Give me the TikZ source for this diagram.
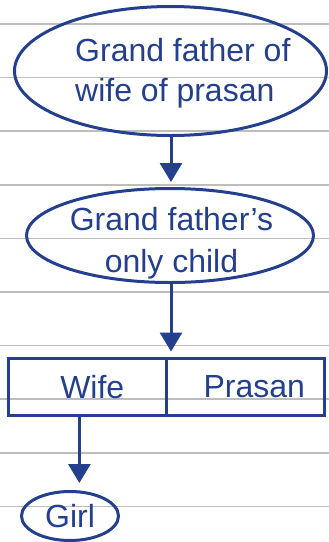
\documentclass[tikz,border=0pt]{standalone}
\usepackage{fontspec}
\setmainfont{Liberation Sans}
\usepackage{tikz}
\usetikzlibrary{shapes.geometric, arrows.meta, positioning, calc}
\definecolor{inkblue}{HTML}{233F8E}
\definecolor{rulegray}{HTML}{BDBDBD}

\begin{document}
\begin{tikzpicture}[
  x=1pt, y=-1pt,
  bubble/.style={draw=inkblue, ellipse, line width=3pt, inner sep=0pt},
  cell/.style={draw=inkblue, rectangle, line width=3pt, inner sep=0pt, outer sep=0pt, minimum height=57pt, text=inkblue, font=\fontsize{32}{40}\selectfont},
  txt/.style={inner sep=0pt, text=inkblue, font=\fontsize{32}{40}\selectfont},
  arr/.style={-{Triangle[width=22pt, length=19pt]}, inkblue, line width=3pt},
  ruled/.style={rulegray, line width=1.6pt}
]
\useasboundingbox (0,0) rectangle (329,542);
% ruled paper background
\foreach \k in {0,...,9} {
  \draw[ruled] (0,{24+53.6*\k}) -- (329,{24+53.6*\k});
}

\node[bubble, minimum width=312pt, minimum height=129pt] (gf) at (170.5,71) {};
\node[txt, align=left, anchor=west] (gft) at (75,73) {Grand father of\\wife of prasan};

\node[bubble, minimum width=287pt, minimum height=94pt] (gc) at (170,235.5) {};
\node[txt, align=center, font=\fontsize{32}{42}\selectfont] (gct) at (171.5,243) {Grand father’s\\only child};

\node[cell, minimum width=157.5pt] (wife) at (87.25,387) {\hspace{10pt}Wife};
\node[cell, minimum width=158.5pt, anchor=west] (prasan) at (wife.east) {\hspace{18pt}Prasan};

\node[bubble, minimum width=97pt, minimum height=49pt, text=inkblue, font=\fontsize{32}{40}\selectfont] (girl) at (70,516) {Girl};

\coordinate (w1) at ($(wife.south west)!0.45!(wife.south east)$);
\draw[arr, shorten >=5pt] (gf.south -| 171,0) -- (gc.north -| 171,0);
\draw[arr, shorten >=7pt] (gc.south -| 171,0) -- (wife.north east -| 171,0);
\draw[arr, shorten >=7pt] (w1) -- (w1 |- girl.north);
\end{tikzpicture}
\end{document}
